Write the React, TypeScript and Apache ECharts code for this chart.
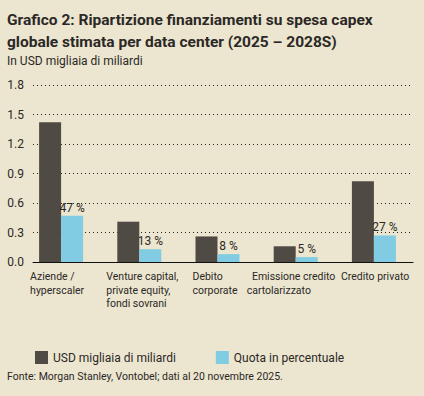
import React, { useEffect, useRef } from "react";
import * as echarts from "echarts";

const categories = [
  "Aziende /\nhyperscaler",
  "Venture capital,\nprivate equity,\nfondi sovrani",
  "Debito\ncorporate",
  "  Emissione credito\ncartolarizzato",
  "Credito privato",
];
const labelShift = [-31, -33, -25, -49, -33];
const usdValues = [1.42, 0.41, 0.26, 0.16, 0.82];
const shareValues = [0.47, 0.13, 0.08, 0.05, 0.27];
const yTicks = { min: 0, max: 1.8, interval: 0.3 };

const FONT = "Roboto, 'Liberation Sans', sans-serif";
const DARK = "#504a44";
const BLUE = "#82cce3";
const BG = "#ece6d0";
const TXT = "#2b2826";

export default function App() {
  const ref = useRef<HTMLDivElement>(null);
  useEffect(() => {
    if (!ref.current) return;
    const chart = echarts.init(ref.current, undefined, { renderer: "svg" });
    const gridTop = 85;
    const gridBottom = 134;
    chart.setOption({
      animation: false,
      backgroundColor: BG,
      textStyle: { fontFamily: FONT },
      title: [
        {
          text: "Grafico 2: Ripartizione finanziamenti su spesa capex\nglobale stimata per data center (2025 – 2028S)",
          left: 7,
          top: 9,
          padding: 0,
          textStyle: { fontFamily: FONT, fontSize: 15.5, fontWeight: "bold", color: TXT, lineHeight: 22 },
        },
        {
          text: "In USD migliaia di miliardi",
          left: 7,
          top: 55,
          padding: 0,
          textStyle: { fontFamily: FONT, fontSize: 12, fontWeight: "normal", color: TXT },
        },
        {
          text: "Fonte: Morgan Stanley, Vontobel; dati al 20 novembre 2025.",
          left: 7,
          top: 371,
          padding: 0,
          textStyle: { fontFamily: FONT, fontSize: 10.5, fontWeight: "normal", color: TXT },
        },
      ],
      legend: {
        left: 30,
        top: 346,
        itemWidth: 13,
        itemHeight: 13,
        itemGap: 40,
        icon: "rect",
        textStyle: { fontFamily: FONT, fontSize: 12, color: TXT },
        data: ["USD migliaia di miliardi", "Quota in percentuale"],
      },
      grid: [
        { left: 33, right: 11, top: gridTop, bottom: gridBottom },
        { left: 22, right: 11, top: gridTop, bottom: gridBottom },
      ],
      xAxis: [
        {
          gridIndex: 0,
          type: "category",
          data: categories,
          axisLine: { show: true, lineStyle: { color: "#111", width: 1 } },
          axisTick: { show: false },
          axisLabel: { show: false },
        },
        {
          gridIndex: 1,
          type: "category",
          data: categories,
          axisLine: { show: false },
          axisTick: { show: false },
          axisLabel: { show: false },
        },
      ],
      yAxis: [
        {
          gridIndex: 0,
          type: "value",
          min: yTicks.min,
          max: yTicks.max,
          interval: yTicks.interval,
          axisLabel: {
            formatter: (v: number) => v.toFixed(1),
            fontSize: 12,
            color: TXT,
            margin: 9,
            fontFamily: FONT,
          },
          axisLine: { show: false },
          axisTick: { show: false },
          splitLine: {
            show: true,
            lineStyle: { color: "#222", type: [1, 3], width: 1 },
          },
        },
        {
          gridIndex: 1,
          type: "value",
          min: yTicks.min,
          max: yTicks.max,
          interval: yTicks.interval,
          show: false,
          splitLine: { show: false },
        },
      ],
      series: [
        {
          name: "USD migliaia di miliardi",
          type: "bar",
          xAxisIndex: 1,
          yAxisIndex: 1,
          data: usdValues,
          barWidth: 22,
          barGap: "0%",
          itemStyle: { color: DARK },
        },
        {
          name: "Quota in percentuale",
          type: "bar",
          xAxisIndex: 1,
          yAxisIndex: 1,
          data: shareValues,
          barWidth: 22,
          barGap: "0%",
          itemStyle: { color: BLUE },
          label: {
            show: true,
            position: "top",
            distance: 2,
            fontSize: 12,
            color: TXT,
            fontFamily: FONT,
            formatter: (p: any) => `${Math.round(p.value * 100)} %`,
          },
        },
      ],
    });
    const baseY = chart.convertToPixel({ yAxisIndex: 1 }, 0) as number;
    const labels = categories.map((c, i) => {
      const cx = chart.convertToPixel({ xAxisIndex: 1 }, i) as number;
      return {
        type: "text",
        x: cx + labelShift[i],
        y: baseY + 8,
        silent: true,
        style: {
          text: c,
          fontSize: 10.5,
          fontFamily: FONT,
          lineHeight: 13.5,
          fill: TXT,
          align: "left",
          verticalAlign: "top",
        },
      };
    });
    chart.setOption({ graphic: labels });
    return () => chart.dispose();
  }, []);
  return (
    <div
      ref={ref}
      style={{ position: "absolute", left: 0, top: 0, width: 424, height: 396 }}
    />
  );
}
